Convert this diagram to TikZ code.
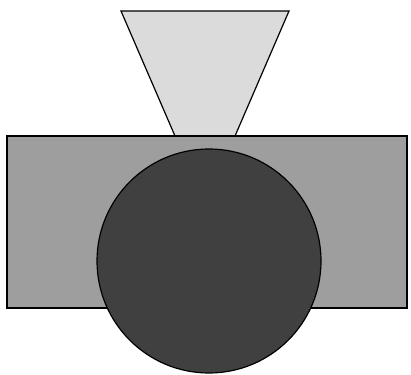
\documentclass[tikz,border=0pt]{standalone}
\begin{document}
\begin{tikzpicture}[x=1pt,y=-1pt,
  outl/.style={draw=black,line width=1.2pt,line join=miter}]
\useasboundingbox (0,0) rectangle (411,374);
\fill[white] (0,0) rectangle (411,374);
\filldraw[outl,fill=black!14] (121,11) -- (289,11) -- (235,136) -- (175,136) -- cycle;
\filldraw[outl,fill=black!38] (7,136) rectangle (407,308);
\filldraw[outl,fill=black!75] (209,261) circle[radius=112];
\end{tikzpicture}
\end{document}
